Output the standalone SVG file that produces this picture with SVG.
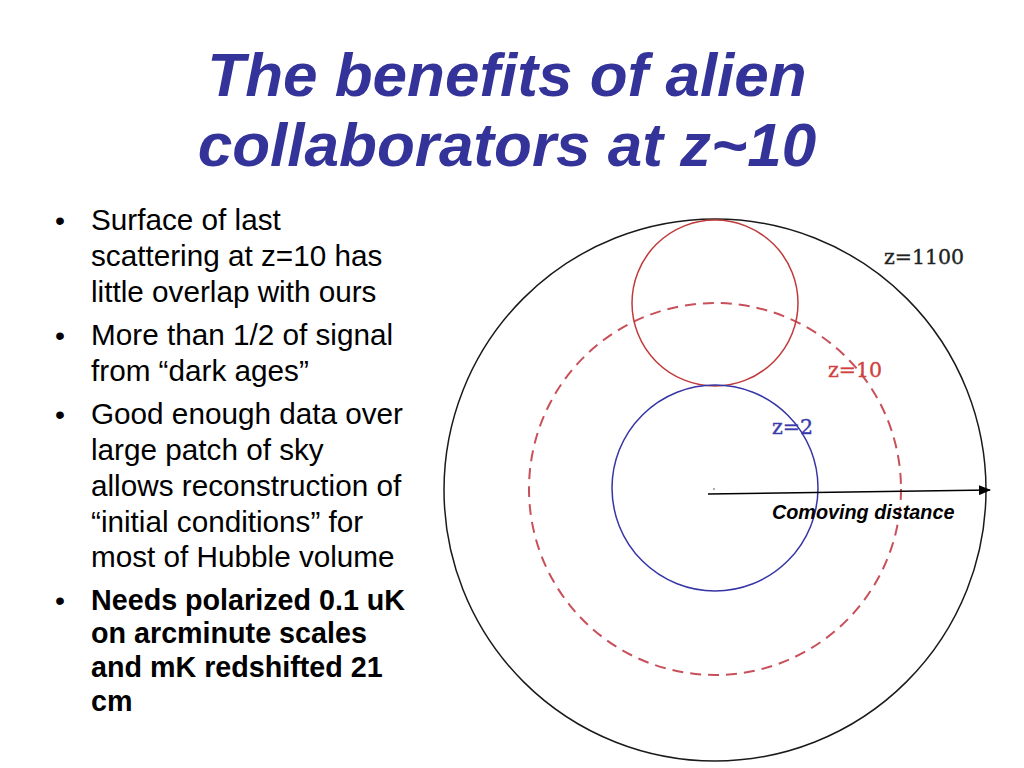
<svg xmlns="http://www.w3.org/2000/svg" width="1024" height="768" viewBox="0 0 1024 768">
<style>
.title{font-family:"Liberation Sans",Arial,sans-serif;font-weight:bold;font-style:italic;font-size:62px;fill:#333399;text-anchor:middle}
.body{font-family:"Liberation Sans",Arial,sans-serif;font-size:29.7px;fill:#000}
.bold{font-weight:bold;font-size:28.7px}
.bul{font-family:"Liberation Sans",Arial,sans-serif;font-size:28.5px;fill:#000;text-anchor:middle}
.zl{font-family:"DejaVu Serif",serif;font-size:20.5px;stroke-width:0.35}
.circ{fill:none;stroke-width:1.5}
</style>
<defs>
<marker id="ah" markerWidth="12" markerHeight="10" refX="11" refY="5" orient="auto" markerUnits="userSpaceOnUse">
<path d="M0,0 L12,5 L0,10 Z" fill="#000"/>
</marker>
</defs>
<rect width="1024" height="768" fill="#fff"/>
<g id="title">
<text class="title" x="507" y="96">The benefits of alien</text>
<text class="title" x="507" y="166">collaborators at z~10</text>
</g>
<g id="bullets">
<text class="bul" x="60" y="230">•</text>
<text class="body" x="91" y="230">Surface of last</text>
<text class="body" x="91" y="266">scattering at z=10 has</text>
<text class="body" x="91" y="302">little overlap with ours</text>
<text class="bul" x="60" y="345">•</text>
<text class="body" x="91" y="345">More than 1/2 of signal</text>
<text class="body" x="91" y="381">from “dark ages”</text>
<text class="bul" x="60" y="424">•</text>
<text class="body" x="91" y="424">Good enough data over</text>
<text class="body" x="91" y="460">large patch of sky</text>
<text class="body" x="91" y="496">allows reconstruction of</text>
<text class="body" x="91" y="532">“initial conditions” for</text>
<text class="body" x="91" y="567">most of Hubble volume</text>
<text class="bul" x="60" y="610">•</text>
<text class="body bold" x="91" y="610">Needs polarized 0.1 uK</text>
<text class="body bold" x="91" y="643">on arcminute scales</text>
<text class="body bold" x="91" y="677">and mK redshifted 21</text>
<text class="body bold" x="91" y="711">cm</text>
</g>
<g id="outer">
<circle class="circ" cx="715" cy="490" r="271" stroke="#1a1a1a"/>
<text class="zl" x="884" y="264" fill="#222" stroke="#222">z=1100</text>
</g>
<g id="z10">
<circle cx="715" cy="489" r="186" fill="none" stroke="#c8505a" stroke-width="2" stroke-dasharray="11 7"/>
<text class="zl" x="828" y="377" fill="#d04040" stroke="#d04040">z=10</text>
</g>
<g id="red-circle">
<circle class="circ" cx="715" cy="303" r="83" stroke="#c03a3a"/>
</g>
<g id="z2">
<circle class="circ" cx="715" cy="488" r="103" stroke="#3535a5"/>
<text class="zl" x="772" y="434" fill="#3a3aaa" stroke="#3a3aaa">z=2</text>
</g>
<g id="connectors">
<circle cx="714" cy="489" r="0.8" fill="#444"/>
<line x1="708" y1="494" x2="990" y2="490" stroke="#000" stroke-width="1.5" marker-end="url(#ah)"/>
<text x="772" y="519" font-family="Liberation Sans, Arial, sans-serif" font-weight="bold" font-style="italic" font-size="19.8" fill="#000">Comoving distance</text>
</g>
</svg>
